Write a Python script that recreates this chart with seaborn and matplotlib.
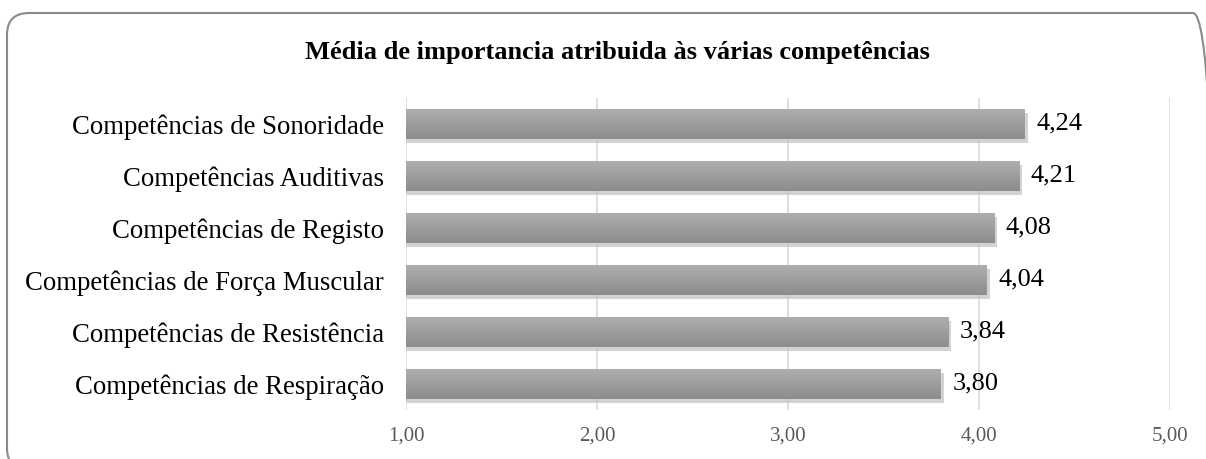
import numpy as np
import pandas as pd
import matplotlib
matplotlib.use("Agg")
import matplotlib.pyplot as plt
import seaborn as sns
from matplotlib.patches import FancyBboxPatch
import matplotlib.patheffects as pe

# Dados
competencias = [
    "Competências de Sonoridade",
    "Competências Auditivas",
    "Competências de Registo",
    "Competências de Força Muscular",
    "Competências de Resistência",
    "Competências de Respiração",
]
medias = [4.24, 4.21, 4.08, 4.04, 3.84, 3.80]
ticks = [1, 2, 3, 4, 5]

df = pd.DataFrame({"Competencia": competencias, "Media": medias})

sns.set_style("white")
plt.rcParams["font.family"] = ["Liberation Serif", "DejaVu Serif"]

fig = plt.figure(figsize=(12.06, 4.59), dpi=100)
ax = fig.add_axes([0.3367, 0.107, 0.6336, 0.680])

sns.barplot(data=df, x="Media", y="Competencia", color="#a2a2a2", width=0.58,
            ax=ax, saturation=1)

# gradiente + sombra nas barras
cmap_barra = matplotlib.colors.LinearSegmentedColormap.from_list("g", ["#afafaf", "#8d8d8d"])
grad = np.linspace(0, 1, 64).reshape(-1, 1)
for p in ax.patches:
    p.set_edgecolor("none")
    p.set_path_effects([pe.SimplePatchShadow(offset=(2, -3), shadow_rgbFace="#c8c8c8", alpha=0.8),
                        pe.Normal()])
    x0, y0 = p.get_x(), p.get_y()
    w, h = p.get_width(), p.get_height()
    im = ax.imshow(grad, cmap=cmap_barra, aspect="auto",
                   extent=(max(x0, 1), x0 + w, y0 + h, y0), zorder=p.get_zorder() + 0.1,
                   interpolation="bilinear")
    im.set_clip_path(p)

for i, v in enumerate(medias):
    ax.text(v + 0.06, i, f"{v:.2f}".replace(".", ","), va="center", ha="left",
            fontsize=19, color="black")

ax.set_xlim(1, 5)
ax.set_ylim(len(medias) - 0.5, -0.5)
ax.set_xticks(ticks)
ax.set_xticklabels([f"{t:.2f}".replace(".", ",") for t in ticks], fontsize=15, color="#595959")
ax.tick_params(axis="x", length=0, pad=12)
ax.tick_params(axis="y", length=0, labelsize=19.3, pad=16, labelcolor="black")
ax.set_xlabel("")
ax.set_ylabel("")
ax.grid(axis="x", color="#d9d9d9", linewidth=1.2)
ax.set_axisbelow(True)
for s in ax.spines.values():
    s.set_visible(False)

fig.text(0.512, 0.885, "Média de importancia atribuida às várias competências",
         ha="center", va="center", fontsize=19, fontweight="bold", color="black")

# moldura arredondada (cortada à direita e em baixo, como no original)
borda = FancyBboxPatch((0.07, -0.11), 12.08, 4.57, boxstyle="round,pad=0,rounding_size=0.22",
                       transform=fig.dpi_scale_trans, facecolor="none", edgecolor="#8a8a8a",
                       linewidth=1.5, clip_on=False)
fig.patches.append(borda)

fig.savefig("out.png", dpi=100)
